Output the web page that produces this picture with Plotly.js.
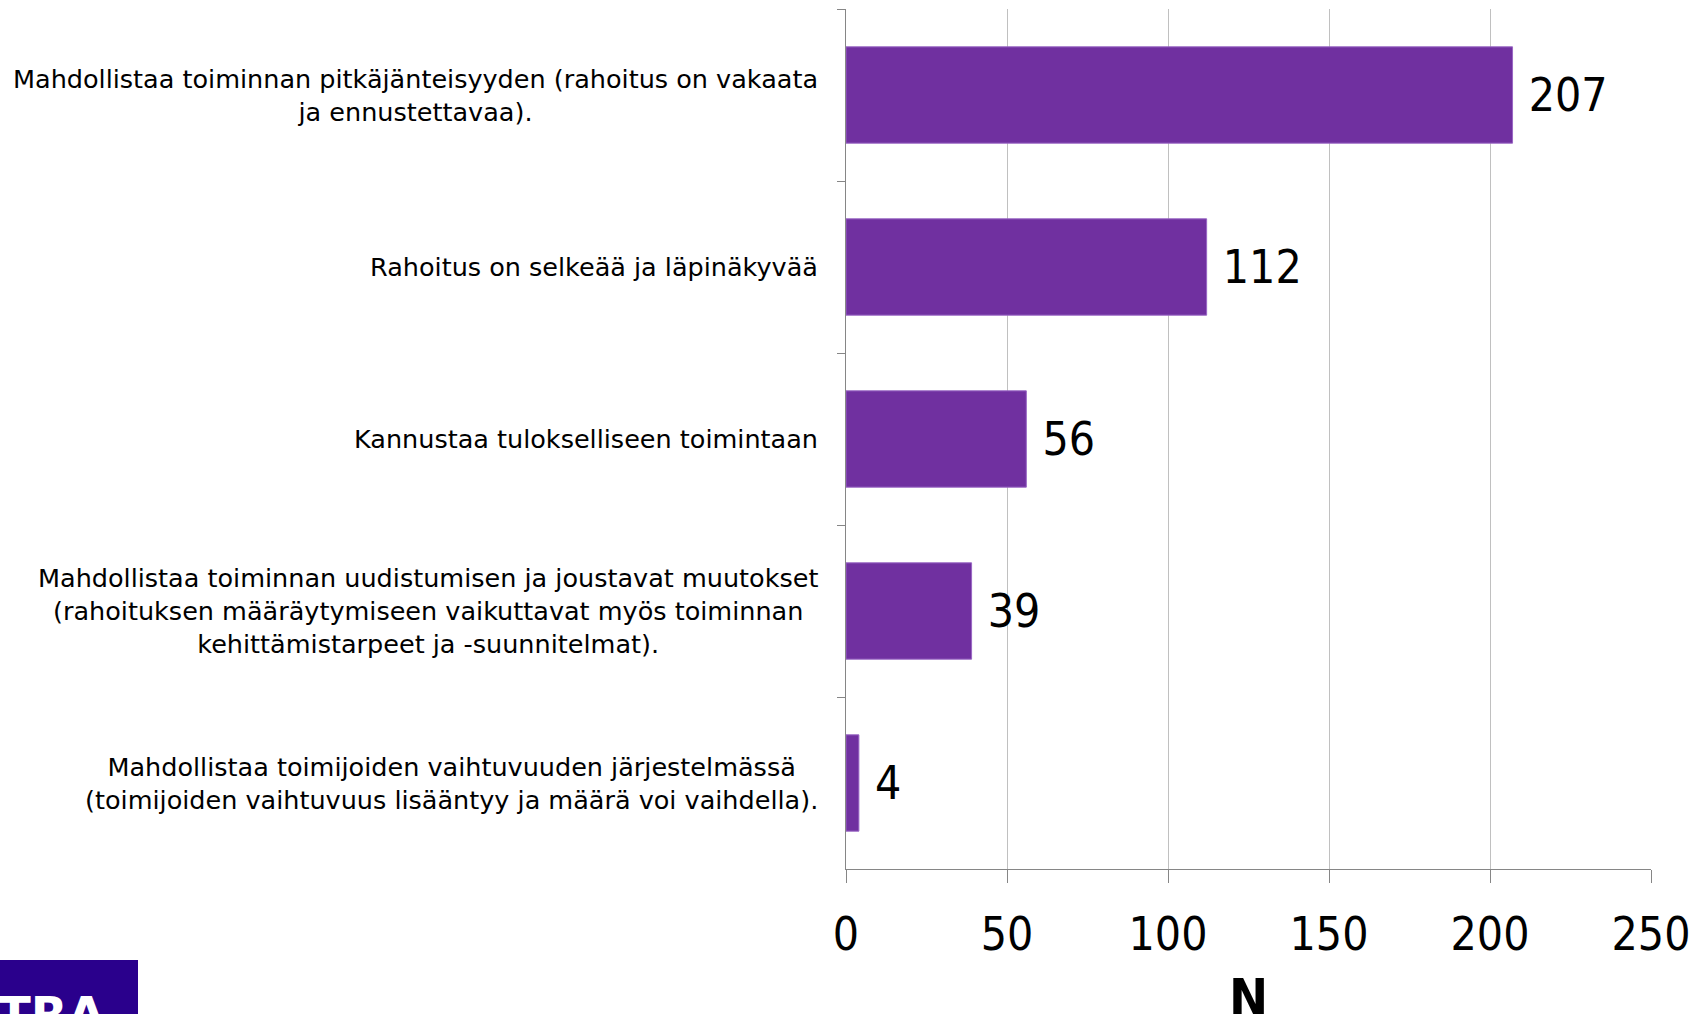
<!DOCTYPE html>
<html>
<head>
<meta charset="utf-8">
<script src="https://cdn.plot.ly/plotly-3.0.1.min.js"></script>
<style>html,body{margin:0;padding:0;background:#fff;}#chart{width:1707px;height:1014px;}</style>
</head>
<body>
<div id="chart"></div>
<script>
const categories = [
  "Mahdollistaa toiminnan pitkäjänteisyyden (rahoitus on vakaata<br>ja ennustettavaa).",
  "Rahoitus on selkeää ja läpinäkyvää",
  "Kannustaa tulokselliseen toimintaan",
  "Mahdollistaa toiminnan uudistumisen ja joustavat muutokset<br>(rahoituksen määräytymiseen vaikuttavat myös toiminnan<br>kehittämistarpeet ja -suunnitelmat).",
  "Mahdollistaa toimijoiden vaihtuvuuden järjestelmässä<br>(toimijoiden vaihtuvuus lisääntyy ja määrä voi vaihdella)."
];
const values = [207, 112, 56, 39, 4];
const xTicks = [0, 50, 100, 150, 200, 250];
const xTitle = "N";
const logoText = "TRA";

const numFont = "'DejaVu Sans Condensed', sans-serif";
const labelFont = "'DejaVu Sans', Verdana, sans-serif";

const trace = {
  type: 'bar',
  orientation: 'h',
  y: categories,
  x: values,
  text: values.map(v => ' ' + v),
  textposition: 'outside',
  cliponaxis: false,
  textfont: {family: numFont, size: 46, color: '#000'},
  marker: {color: '#7030a0', line: {color: '#9966c4', width: 1}},
  hoverinfo: 'none'
};

const annotations = categories.map(c => ({
  xref: 'paper', yref: 'y', x: 0, y: c, xanchor: 'right', yanchor: 'middle',
  xshift: -26, text: c, showarrow: false, align: 'center',
  font: {family: labelFont, size: 25.5, color: '#000'}
}));
// x-axis title
annotations.push({
  xref: 'paper', yref: 'paper', x: 0.5, y: (869 - 998)/860, xanchor: 'center', yanchor: 'middle',
  text: '<b>' + xTitle + '</b>', showarrow: false,
  font: {family: 'DejaVu Sans Condensed', size: 52, color: '#000'}
});
// logo
annotations.push({
  xref: 'paper', yref: 'paper', x: -846/805, y: (869 - 984)/860, xanchor: 'left', yanchor: 'top',
  xshift: -4, text: '<b>' + logoText + '</b>', showarrow: false,
  font: {family: 'DejaVu Sans', size: 48, color: '#fff'}
});

const layout = {
  width: 1707, height: 1014,
  margin: {l: 846, r: 56, t: 9, b: 145},
  paper_bgcolor: '#fff', plot_bgcolor: '#fff',
  showlegend: false,
  bargap: 0.44,
  xaxis: {
    range: [0, 250], tickvals: xTicks, ticktext: xTicks.map(String),
    showgrid: true, gridcolor: '#c0c0c0', gridwidth: 1,
    showline: true, linecolor: '#868686', linewidth: 1,
    ticks: 'outside', ticklen: 13, tickcolor: '#868686',
    tickfont: {family: numFont, size: 46, color: '#000'},
    ticklabelstandoff: 12,
    zeroline: false, fixedrange: true
  },
  yaxis: {
    type: 'category', autorange: 'reversed',
    showticklabels: false, tickson: 'boundaries',
    ticks: 'outside', ticklen: 8, tickcolor: '#868686',
    showline: true, linecolor: '#868686', linewidth: 1,
    showgrid: false, zeroline: false, fixedrange: true
  },
  annotations: annotations,
  shapes: [{
    type: 'rect', xref: 'paper', yref: 'paper', layer: 'below',
    x0: -846/805, x1: (138 - 846)/805, y0: -145/860, y1: -(960 - 869)/860,
    fillcolor: '#2a008c', line: {width: 0}
  }]
};

Plotly.newPlot('chart', [trace], layout, {displayModeBar: false, staticPlot: true});
</script>
</body>
</html>
